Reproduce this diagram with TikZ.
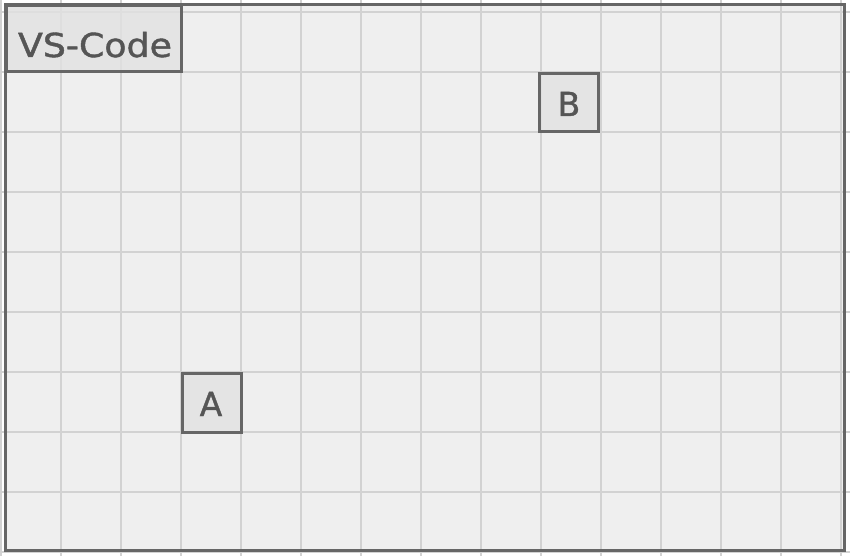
\documentclass[tikz,border=0pt]{standalone}
\usepackage{fontspec}
\setmainfont{DejaVu Sans}
\newfontfamily\labfont[FakeBold=1.2]{DejaVu Sans}
\definecolor{framec}{HTML}{666666}
\definecolor{fillc}{HTML}{EFEFEF}
\definecolor{gridc}{HTML}{D2D2D2}
\definecolor{boxc}{HTML}{E2E2E2}
\definecolor{textc}{HTML}{555555}
\tikzset{
  labelbox/.style={draw=framec, fill=boxc, fill opacity=0.8, text opacity=1, line width=3pt},
  labeltext/.style={text=textc, font=\labfont\fontsize{33}{35}\selectfont, anchor=base, inner sep=0pt},
  gridline/.style={draw=gridc, line width=1.2pt},
}
\begin{document}
\begin{tikzpicture}[x=1pt,y=-1pt]
\useasboundingbox (0,0) rectangle (850,556);
\fill[white] (0,0) rectangle (850,556);
\fill[fillc] (5.5,5) rectangle (844.5,550.5);
\foreach \i in {0,...,14} \draw[gridline] ({1+60*\i},0) -- ({1+60*\i},556);
\foreach \j in {0,...,9} \draw[gridline] (0,{12+60*\j}) -- (850,{12+60*\j});
\draw[framec, line width=3pt] (5.5,5) rectangle (844.5,550.5);
\node[labelbox, minimum width=175pt, minimum height=66pt, inner sep=0pt] (vs) at (93.5,38.5) {};
\node[labeltext, xscale=1.1] (vst) at (95,57) {VS-Code};
\node[labelbox, minimum width=59pt, minimum height=58pt, inner sep=0pt] (b) at (568.5,103) {};
\node[labeltext] (bt) at (569,116) {B};
\node[labelbox, minimum width=59pt, minimum height=59pt, inner sep=0pt] (a) at (212,402.5) {};
\node[labeltext] (at) at (211,416) {A};
\end{tikzpicture}
\end{document}
